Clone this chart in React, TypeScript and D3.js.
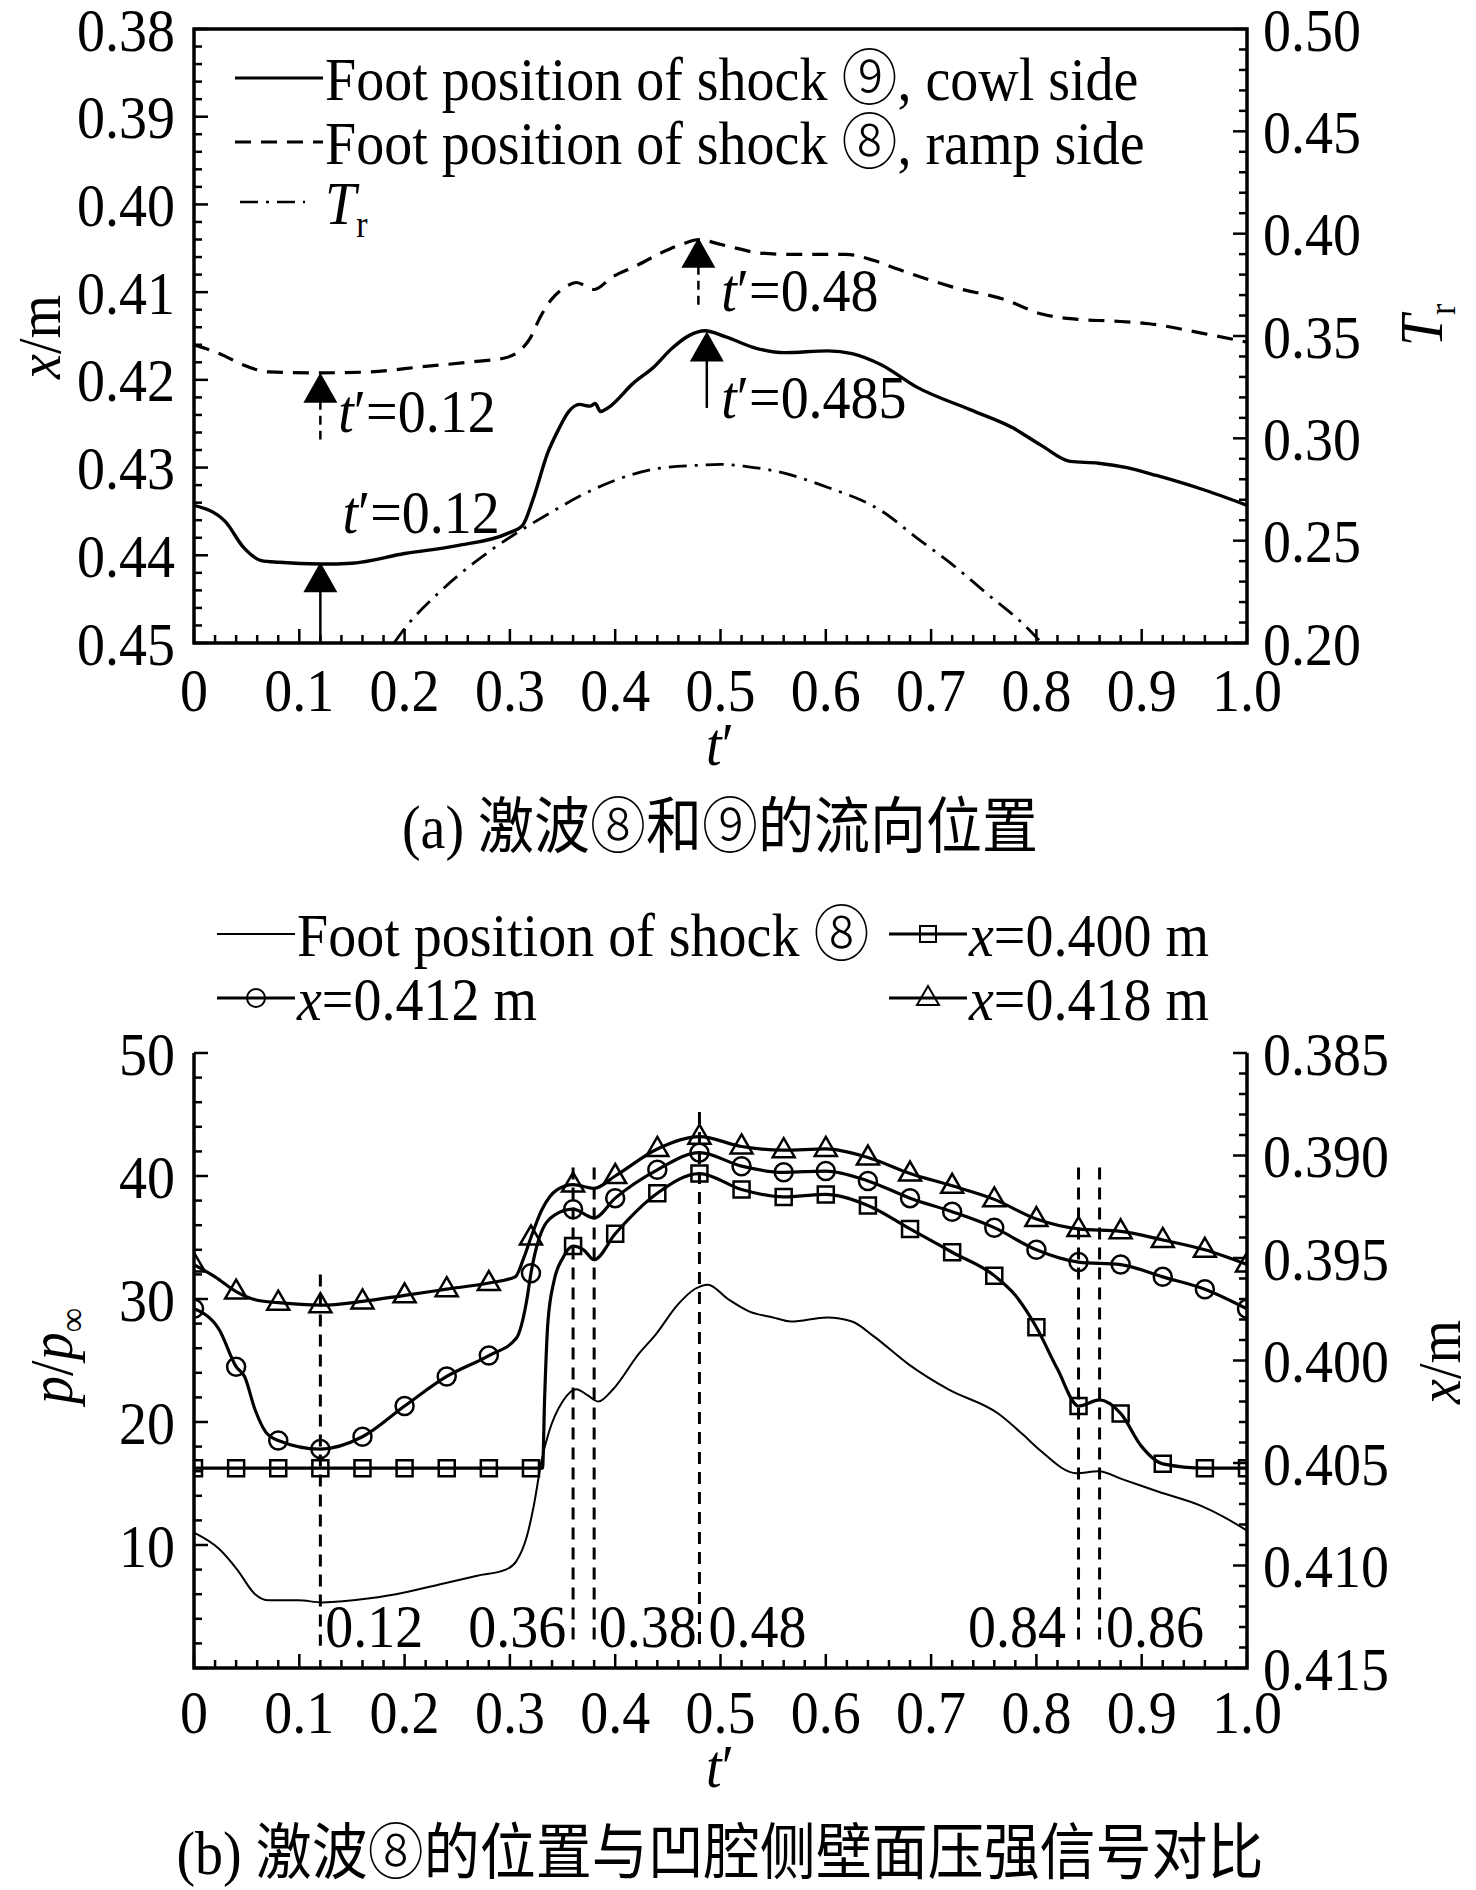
import React, { useEffect, useRef } from 'react';
import * as d3 from 'd3';

// ---------- panel (a): shock foot positions and Tr ----------
// [t', x/m]
const cowlSide: [number, number][] = [
  [0, 0.4343], [0.03, 0.4362], [0.047, 0.4391], [0.064, 0.4406], [0.081, 0.4408],
  [0.12, 0.441], [0.15, 0.4409], [0.2, 0.4398], [0.25, 0.4389], [0.298, 0.4375],
  [0.312, 0.4366], [0.322, 0.4336], [0.336, 0.4283], [0.346, 0.4257], [0.356, 0.4236],
  [0.366, 0.4228], [0.376, 0.423], [0.381, 0.4227], [0.386, 0.4236], [0.393, 0.4232],
  [0.417, 0.4204], [0.437, 0.4185], [0.454, 0.4164], [0.471, 0.4149], [0.485, 0.4144],
  [0.505, 0.4151], [0.534, 0.4164], [0.561, 0.4169], [0.602, 0.4167], [0.625, 0.417],
  [0.653, 0.4183], [0.686, 0.4208], [0.737, 0.4234], [0.778, 0.4255], [0.805, 0.4275],
  [0.832, 0.4293], [0.859, 0.4295], [0.886, 0.43], [0.914, 0.4309], [0.958, 0.4325],
  [1.0, 0.4343],
];
const rampSide: [number, number][] = [
  [0, 0.416], [0.024, 0.417], [0.047, 0.4183], [0.071, 0.4191], [0.12, 0.4192],
  [0.166, 0.4191], [0.217, 0.4185], [0.268, 0.4179], [0.295, 0.4175], [0.308, 0.4168],
  [0.319, 0.4153], [0.329, 0.4128], [0.339, 0.4109], [0.353, 0.4094], [0.363, 0.4089],
  [0.38, 0.4097], [0.397, 0.4083], [0.42, 0.407], [0.444, 0.4055], [0.464, 0.4045],
  [0.48, 0.404], [0.498, 0.4045], [0.519, 0.4051], [0.534, 0.4055], [0.568, 0.4057],
  [0.619, 0.4057], [0.646, 0.4064], [0.669, 0.4074], [0.72, 0.4094], [0.771, 0.4109],
  [0.805, 0.4125], [0.839, 0.4131], [0.873, 0.4133], [0.907, 0.4136], [0.958, 0.4147],
  [1.0, 0.4157],
];
// [t', Tr]
const trSeries: [number, number][] = [
  [0.19, 0.2], [0.2, 0.207], [0.234, 0.2253], [0.268, 0.24], [0.302, 0.2523],
  [0.336, 0.2629], [0.37, 0.2727], [0.403, 0.2801], [0.437, 0.285], [0.481, 0.2869],
  [0.5, 0.2873], [0.525, 0.2862], [0.551, 0.2841], [0.602, 0.276], [0.653, 0.2645],
  [0.686, 0.2515], [0.72, 0.2384], [0.754, 0.2237], [0.788, 0.209], [0.805, 0.2],
];
// arrows: t', tip (x/m), tail (x/m), dashed stem
const arrowT = [0.12, 0.12, 0.479, 0.487];
const arrowTip = [0.4192, 0.4408, 0.4038, 0.4145];
const arrowTail = [0.4268, 0.45, 0.4117, 0.4232];
const arrowDashed = [true, false, true, false];
const annT = [0.137, 0.141, 0.5007, 0.5007];
const annX = [0.4259, 0.4375, 0.4121, 0.4243];
const annText = ['0.12', '0.12', '0.48', '0.485'];

const xTicksA = d3.range(0, 1.0001, 0.1);
const yTicksA = d3.range(0.38, 0.45001, 0.01);
const trTicks = d3.range(0.2, 0.50001, 0.05);

// ---------- panel (b): shock 8 position vs cavity wall pressure ----------
// [t', p/p_inf]
const p400: [number, number][] = [
  [0, 16.25], [0.04, 16.25], [0.08, 16.25], [0.12, 16.25], [0.16, 16.25], [0.2, 16.25],
  [0.24, 16.25], [0.28, 16.25], [0.32, 16.25], [0.331, 16.25], [0.333, 22], [0.336, 28],
  [0.342, 31.5], [0.35, 33.3], [0.36, 34.3], [0.37, 34.0], [0.38, 33.2], [0.4, 35.3],
  [0.44, 38.6], [0.48, 40.2], [0.52, 38.9], [0.56, 38.3], [0.6, 38.5], [0.64, 37.6],
  [0.68, 35.7], [0.72, 33.8], [0.76, 31.9], [0.78, 30.3], [0.8, 27.7], [0.82, 24.3],
  [0.84, 21.3], [0.86, 21.8], [0.88, 20.7], [0.9, 18.0], [0.92, 16.6], [0.96, 16.25],
  [1.0, 16.25],
];
const p412: [number, number][] = [
  [0, 29.2], [0.024, 27.5], [0.04, 24.5], [0.048, 23.7], [0.058, 21], [0.068, 19.2],
  [0.08, 18.5], [0.12, 17.8], [0.16, 18.8], [0.2, 21.3], [0.24, 23.7], [0.28, 25.4],
  [0.306, 26.8], [0.316, 29.9], [0.32, 32.1], [0.328, 35.0], [0.342, 36.8], [0.36, 37.3],
  [0.38, 36.6], [0.4, 38.2], [0.44, 40.5], [0.48, 41.9], [0.52, 40.8], [0.56, 40.3],
  [0.6, 40.4], [0.64, 39.6], [0.68, 38.2], [0.72, 37.1], [0.76, 35.8], [0.8, 34.0],
  [0.84, 33.0], [0.88, 32.8], [0.92, 31.8], [0.96, 30.8], [1.0, 29.2],
];
const p418: [number, number][] = [
  [0, 32.8], [0.02, 31.8], [0.04, 30.6], [0.06, 29.9], [0.08, 29.7], [0.12, 29.5],
  [0.16, 29.8], [0.2, 30.3], [0.24, 30.8], [0.28, 31.3], [0.305, 31.8], [0.313, 33.3],
  [0.32, 35.0], [0.33, 37.2], [0.345, 38.9], [0.36, 39.3], [0.38, 39.0], [0.4, 40.0],
  [0.44, 42.2], [0.48, 43.2], [0.52, 42.4], [0.56, 42.1], [0.6, 42.2], [0.64, 41.5],
  [0.68, 40.2], [0.72, 39.2], [0.76, 38.1], [0.8, 36.5], [0.84, 35.7], [0.88, 35.5],
  [0.92, 34.8], [0.96, 34.0], [1.0, 32.8],
];
// [t', x/m] (right axis)
const shock8Foot: [number, number][] = [
  [0, 0.4084], [0.024, 0.4092], [0.041, 0.4102], [0.058, 0.4114], [0.071, 0.4117],
  [0.099, 0.4117], [0.122, 0.4118], [0.167, 0.4116], [0.201, 0.4113], [0.235, 0.4109],
  [0.269, 0.4105], [0.296, 0.4102], [0.306, 0.4098], [0.316, 0.4086], [0.323, 0.407],
  [0.33, 0.4049], [0.337, 0.4035], [0.35, 0.402], [0.363, 0.4014], [0.374, 0.4017],
  [0.384, 0.402], [0.398, 0.4014], [0.422, 0.3997], [0.439, 0.3987], [0.459, 0.3973],
  [0.476, 0.3965], [0.488, 0.3963], [0.507, 0.397], [0.527, 0.3976], [0.55, 0.3979],
  [0.567, 0.3981], [0.601, 0.3979], [0.625, 0.3981], [0.645, 0.3988], [0.679, 0.4002],
  [0.716, 0.4014], [0.764, 0.4026], [0.787, 0.4036], [0.804, 0.4044], [0.838, 0.4055],
  [0.859, 0.4054], [0.882, 0.4058], [0.916, 0.4064], [0.957, 0.4071], [0.977, 0.4076],
  [1.0, 0.4083],
];
// vertical reference lines: t', top (p/p_inf)
const vlineT = [0.12, 0.36, 0.38, 0.48, 0.84, 0.86];
const vlineTop = [32, 40.7, 40.7, 45.2, 40.7, 40.7];
const vlabelT = [0.1246, 0.3535, 0.3844, 0.4886, 0.828, 0.866];
const vlabelText = ['0.12', '0.36', '0.38', '0.48', '0.84', '0.86'];
const vlabelAnchor = ['start', 'end', 'start', 'start', 'end', 'start'];

const pTicks = [10, 20, 30, 40, 50];
const xmTicks = d3.range(0.385, 0.41501, 0.005);

const FONT = '"Liberation Serif", "Times New Roman", "Noto Sans CJK SC", serif';
const FS = 56;
const STRETCH = 1.1; // glyphs in the figure are a little taller than plain Times

export default function App() {
  const ref = useRef<SVGSVGElement>(null);

  useEffect(() => {
    if (!ref.current) return;
    const svg = d3.select(ref.current);
    svg.selectAll('*').remove();
    svg.attr('font-family', FONT).attr('font-size', FS).attr('fill', '#000');

    const L = 194, R = 1247;
    const MAJ = 14, MIN = 8;

    // text placed at (x, y), optionally rotated, slightly stretched vertically
    const txt = (x: number, y: number, anchor = 'start', rot = 0) =>
      svg.append('text')
        .attr('transform', `translate(${x},${y})${rot ? ` rotate(${rot})` : ''} scale(1,${STRETCH})`)
        .attr('text-anchor', anchor);
    const circled = (sel: any, ch: string) =>
      sel.append('tspan').attr('font-family', '"Noto Sans CJK SC"').attr('font-weight', 300).text(ch);

    const vTicks = (scale: any, major: number[], minor: number[], x: number, dir: number) => {
      const g = svg.append('g').attr('stroke', '#000').attr('stroke-width', 2.5);
      major.forEach(v => g.append('line').attr('x1', x).attr('x2', x + dir * MAJ).attr('y1', scale(v)).attr('y2', scale(v)));
      minor.forEach(v => g.append('line').attr('x1', x).attr('x2', x + dir * MIN).attr('y1', scale(v)).attr('y2', scale(v)));
    };
    const hTicks = (scale: any, y: number) => {
      const g = svg.append('g').attr('stroke', '#000').attr('stroke-width', 2.5);
      d3.range(0, 1.0001, 0.02).forEach((v, i) => {
        const len = i % 5 === 0 ? MAJ : MIN;
        g.append('line').attr('x1', scale(v)).attr('x2', scale(v)).attr('y1', y).attr('y2', y - len);
      });
    };
    const isMajor = (v: number, step: number) => Math.abs(v / step - Math.round(v / step)) < 1e-6;

    // ================= panel (a) =================
    const T = 29, B = 643;
    const xa = d3.scaleLinear().domain([0, 1]).range([L, R]);
    const ya = d3.scaleLinear().domain([0.38, 0.45]).range([T, B]);
    const yr = d3.scaleLinear().domain([0.2, 0.5]).range([B, T]);

    const defs = svg.append('defs');
    defs.append('clipPath').attr('id', 'clipA').append('rect')
      .attr('x', L).attr('y', T).attr('width', R - L).attr('height', B - T);

    const lineA = d3.line<[number, number]>().x(d => xa(d[0])).y(d => ya(d[1])).curve(d3.curveMonotoneX);
    const lineTr = d3.line<[number, number]>().x(d => xa(d[0])).y(d => yr(d[1])).curve(d3.curveMonotoneX);

    const pa = svg.append('g').attr('clip-path', 'url(#clipA)').attr('fill', 'none').attr('stroke', '#000');
    pa.append('path').attr('d', lineA(cowlSide)).attr('stroke-width', 3.4);
    pa.append('path').attr('d', lineA(rampSide)).attr('stroke-width', 3.2).attr('stroke-dasharray', '16,10');
    pa.append('path').attr('d', lineTr(trSeries)).attr('stroke-width', 2.8).attr('stroke-dasharray', '18,8,3,8');

    // arrows
    arrowT.forEach((t, i) => {
      const x = xa(t), tip = ya(arrowTip[i]);
      svg.append('line').attr('x1', x).attr('x2', x).attr('y1', tip + 28).attr('y2', ya(arrowTail[i]))
        .attr('stroke', '#000').attr('stroke-width', 2.5)
        .attr('stroke-dasharray', arrowDashed[i] ? '9,6' : null);
      svg.append('path').attr('d', `M${x},${tip}L${x - 17},${tip + 30}L${x + 17},${tip + 30}Z`).attr('fill', '#000');
    });
    annT.forEach((t, i) => {
      const tx = txt(xa(t), ya(annX[i]));
      tx.append('tspan').attr('font-style', 'italic').text('t');
      tx.append('tspan').text('\u2032=' + annText[i]);
    });

    // frame
    svg.append('rect').attr('x', L).attr('y', T).attr('width', R - L).attr('height', B - T)
      .attr('fill', 'none').attr('stroke', '#000').attr('stroke-width', 3.5);

    vTicks(ya, yTicksA, d3.range(0.38, 0.45001, 0.002).filter(v => !isMajor(v - 0.38, 0.01)), L, 1);
    vTicks(yr, trTicks, d3.range(0.2, 0.50001, 0.01).filter(v => !isMajor(v - 0.2, 0.05)), R, -1);
    hTicks(xa, B);

    yTicksA.forEach(v => txt(175, ya(v), 'end').attr('dy', '0.35em').text(v.toFixed(2)));
    trTicks.forEach(v => txt(1263, yr(v)).attr('dy', '0.35em').text(v.toFixed(2)));
    xTicksA.forEach(v => txt(xa(v), 689, 'middle').attr('dy', '0.35em').text(v === 0 ? '0' : v.toFixed(1)));

    // legend (a)
    const legA = [
      { y: 78, dash: null, num: '\u2468', tail: ', cowl side' },
      { y: 142, dash: '16,10', num: '\u2467', tail: ', ramp side' },
    ];
    legA.forEach(d => {
      svg.append('line').attr('x1', 235).attr('x2', 323).attr('y1', d.y).attr('y2', d.y)
        .attr('stroke', '#000').attr('stroke-width', 3).attr('stroke-dasharray', d.dash);
      const tx = txt(325, d.y).attr('dy', '0.35em');
      tx.append('tspan').text('Foot position of shock ');
      circled(tx, d.num);
      tx.append('tspan').text(d.tail);
    });
    svg.append('line').attr('x1', 240).attr('x2', 305).attr('y1', 202).attr('y2', 202)
      .attr('stroke', '#000').attr('stroke-width', 2.5).attr('stroke-dasharray', '18,8,3,8');
    const trLeg = txt(325, 202).attr('dy', '0.35em');
    trLeg.append('tspan').attr('font-style', 'italic').text('T');
    trLeg.append('tspan').attr('font-size', 34).attr('dy', 12).text('r');

    // axis titles (a)
    const xmA = txt(60, 337, 'middle', -90);
    xmA.append('tspan').attr('font-style', 'italic').text('x');
    xmA.append('tspan').text('/m');
    const trT = txt(1442, 325, 'middle', -90);
    trT.append('tspan').attr('font-style', 'italic').text('T');
    trT.append('tspan').attr('font-size', 34).attr('dy', 12).text('r');
    const tA = txt(720, 765, 'middle');
    tA.append('tspan').attr('font-style', 'italic').text('t');
    tA.append('tspan').text('\u2032');
    const capA = txt(720, 848, 'middle');
    capA.append('tspan').text('(a) 激波');
    circled(capA, '\u2467');
    capA.append('tspan').text('和');
    circled(capA, '\u2468');
    capA.append('tspan').text('的流向位置');

    // ================= panel (b) =================
    const T2 = 1053, B2 = 1668;
    const xb = d3.scaleLinear().domain([0, 1]).range([L, R]);
    const yp = d3.scaleLinear().domain([0, 50]).range([B2, T2]);
    const yx = d3.scaleLinear().domain([0.385, 0.415]).range([T2, B2]);

    defs.append('clipPath').attr('id', 'clipB').append('rect')
      .attr('x', L).attr('y', T2 - 30).attr('width', R - L).attr('height', B2 - T2 + 30);

    const lineP = d3.line<[number, number]>().x(d => xb(d[0])).y(d => yp(d[1])).curve(d3.curveMonotoneX);
    const lineX = d3.line<[number, number]>().x(d => xb(d[0])).y(d => yx(d[1])).curve(d3.curveMonotoneX);

    const pb = svg.append('g').attr('clip-path', 'url(#clipB)').attr('fill', 'none').attr('stroke', '#000');

    // dashed reference lines
    vlineT.forEach((t, i) => {
      pb.append('line').attr('x1', xb(t)).attr('x2', xb(t)).attr('y1', yp(vlineTop[i])).attr('y2', yp(1.8))
        .attr('stroke-width', 3).attr('stroke-dasharray', '12,8');
    });

    pb.append('path').attr('d', lineX(shock8Foot)).attr('stroke-width', 2);
    const series = [
      { data: p400, marker: 'square' },
      { data: p412, marker: 'circle' },
      { data: p418, marker: 'triangle' },
    ];
    const markerPath = (kind: string, x: number, y: number) => {
      if (kind === 'square') return `M${x - 8},${y - 8}h16v16h-16Z`;
      if (kind === 'triangle') return `M${x},${y - 12}L${x + 11},${y + 7}L${x - 11},${y + 7}Z`;
      return `M${x - 9},${y}a9,9 0 1,0 18,0a9,9 0 1,0 -18,0Z`;
    };
    series.forEach(s => {
      pb.append('path').attr('d', lineP(s.data)).attr('stroke-width', 3.2);
      s.data.filter(d => isMajor(d[0], 0.04)).forEach(d => {
        pb.append('path').attr('d', markerPath(s.marker, xb(d[0]), yp(d[1])))
          .attr('stroke-width', 2.5).attr('fill', 'none');
      });
    });

    vlabelT.forEach((t, i) => txt(xb(t), yp(1.7), vlabelAnchor[i]).text(vlabelText[i]));

    // axes (b): no top border
    const ax = svg.append('g').attr('stroke', '#000').attr('stroke-width', 3.5).attr('fill', 'none');
    ax.append('path').attr('d', `M${L},${T2}V${B2}H${R}V${T2}`);
    vTicks(yp, d3.range(0, 50.001, 10), d3.range(0, 50.001, 2).filter(v => !isMajor(v, 10)), L, 1);
    vTicks(yx, xmTicks, d3.range(0.385, 0.41501, 0.001).filter(v => !isMajor(v - 0.385, 0.005)), R, -1);
    hTicks(xb, B2);

    pTicks.forEach(v => txt(175, yp(v), 'end').attr('dy', '0.35em').text(String(v)));
    xmTicks.forEach(v => txt(1263, yx(v)).attr('dy', '0.35em').text(v.toFixed(3)));
    xTicksA.forEach(v => txt(xb(v), 1711, 'middle').attr('dy', '0.35em').text(v === 0 ? '0' : v.toFixed(1)));

    // legend (b)
    const legB = [
      { x: 217, y: 934, marker: null, label: null },
      { x: 889, y: 934, marker: 'square', label: '0.400' },
      { x: 217, y: 998, marker: 'circle', label: '0.412' },
      { x: 889, y: 998, marker: 'triangle', label: '0.418' },
    ];
    legB.forEach(d => {
      svg.append('line').attr('x1', d.x).attr('x2', d.x + 78).attr('y1', d.y).attr('y2', d.y)
        .attr('stroke', '#000').attr('stroke-width', d.marker ? 3 : 2);
      if (d.marker) {
        svg.append('path').attr('d', markerPath(d.marker, d.x + 39, d.y)).attr('fill', 'none')
          .attr('stroke', '#000').attr('stroke-width', 2);
      }
      const tx = txt(d.x + 80, d.y).attr('dy', '0.35em');
      if (d.label) {
        tx.append('tspan').attr('font-style', 'italic').text('x');
        tx.append('tspan').text('=' + d.label + ' m');
      } else {
        tx.append('tspan').text('Foot position of shock ');
        circled(tx, '\u2467');
      }
    });

    // axis titles (b)
    const pt = txt(72, 1356, 'middle', -90);
    pt.append('tspan').attr('font-style', 'italic').text('p');
    pt.append('tspan').text('/');
    pt.append('tspan').attr('font-style', 'italic').text('p');
    pt.append('tspan').attr('font-size', 34).attr('dy', 12).text('\u221e');
    const xmB = txt(1460, 1362, 'middle', -90);
    xmB.append('tspan').attr('font-style', 'italic').text('x');
    xmB.append('tspan').text('/m');
    const tB = txt(720, 1787, 'middle');
    tB.append('tspan').attr('font-style', 'italic').text('t');
    tB.append('tspan').text('\u2032');
    const capB = txt(720, 1874, 'middle');
    capB.append('tspan').text('(b) 激波');
    circled(capB, '\u2467');
    capB.append('tspan').text('的位置与凹腔侧壁面压强信号对比');
  }, []);

  return (
    <svg
      ref={ref}
      width={1476}
      height={1890}
      style={{ position: 'absolute', left: 0, top: 0, background: '#fff' }}
    />
  );
}
